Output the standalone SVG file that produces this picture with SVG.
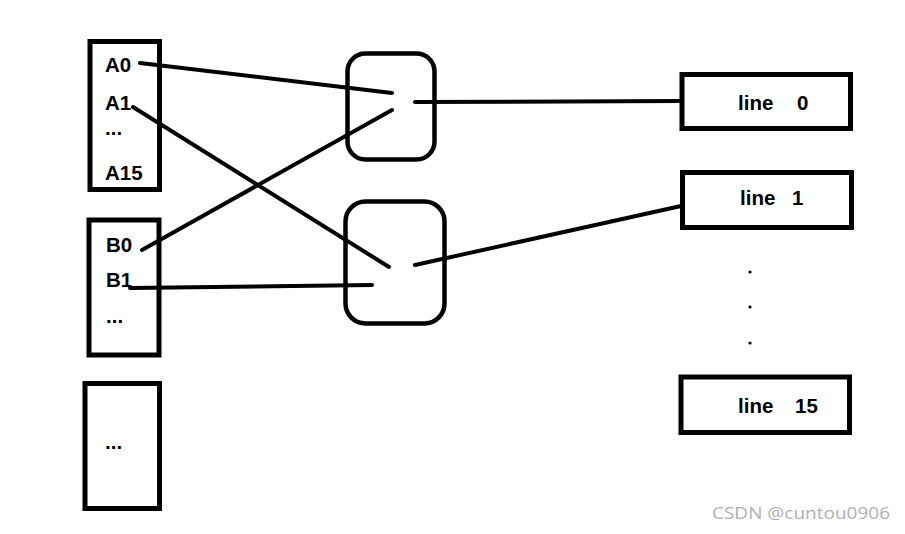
<svg xmlns="http://www.w3.org/2000/svg" width="905" height="534" viewBox="0 0 905 534">
<style>
.box{fill:#fff;stroke:#000;stroke-width:5}
.rbox{fill:#fff;stroke:#000;stroke-width:4.5}
.t{font-family:"Liberation Sans",Arial,sans-serif;font-weight:bold;font-size:20.5px;fill:#000}
.c{fill:none;stroke:#000;stroke-width:4;stroke-linecap:round}
.wm{font-family:"Open Sans","Noto Sans",sans-serif;font-size:17px;fill:#b0b0b0}
</style>
<rect width="905" height="534" fill="#fff"/>
<g id="nodeA">
<rect class="box" x="90" y="41.5" width="69.5" height="148"/>
<text class="t" x="105" y="72">A0</text>
<text class="t" x="105" y="110">A1</text>
<text class="t" x="105" y="135">...</text>
<text class="t" x="105" y="180">A15</text>
</g>
<g id="nodeB">
<rect class="box" x="89" y="220" width="70" height="135"/>
<text class="t" x="106" y="252">B0</text>
<text class="t" x="106" y="287">B1</text>
<text class="t" x="106" y="323">...</text>
</g>
<g id="nodeC">
<rect class="box" x="85" y="383.5" width="74.5" height="125"/>
<text class="t" x="105" y="449">...</text>
</g>
<g id="mux0">
<rect class="rbox" x="347.5" y="53.5" width="87" height="106" rx="18"/>
</g>
<g id="mux1">
<rect class="rbox" x="345.5" y="201.5" width="99" height="122" rx="20"/>
</g>
<g id="line0">
<rect class="box" x="682" y="74.5" width="168.5" height="54"/>
<text class="t" x="738" y="110">line</text>
<text class="t" x="797" y="110">0</text>
</g>
<g id="line1">
<rect class="box" x="682.5" y="172.5" width="169" height="55"/>
<text class="t" x="740" y="205">line</text>
<text class="t" x="792" y="205">1</text>
</g>
<g id="line15">
<rect class="box" x="681" y="377" width="168.5" height="55.5"/>
<text class="t" x="738" y="413">line</text>
<text class="t" x="795" y="413">15</text>
</g>
<g id="dots">
<circle cx="750" cy="272" r="1.6"/>
<circle cx="750" cy="307" r="1.6"/>
<circle cx="750" cy="343" r="1.6"/>
</g>
<g id="connectors">
<line class="c" x1="140" y1="63" x2="392" y2="93"/>
<line class="c" x1="133" y1="107" x2="389" y2="267"/>
<line class="c" x1="142" y1="250" x2="392" y2="110"/>
<line class="c" x1="130" y1="288" x2="372" y2="285"/>
<line class="c" x1="415" y1="102" x2="681" y2="101"/>
<line class="c" x1="415" y1="265" x2="681" y2="206"/>
</g>
<text class="wm" x="712" y="519" textLength="178" lengthAdjust="spacingAndGlyphs">CSDN @cuntou0906</text>
</svg>
